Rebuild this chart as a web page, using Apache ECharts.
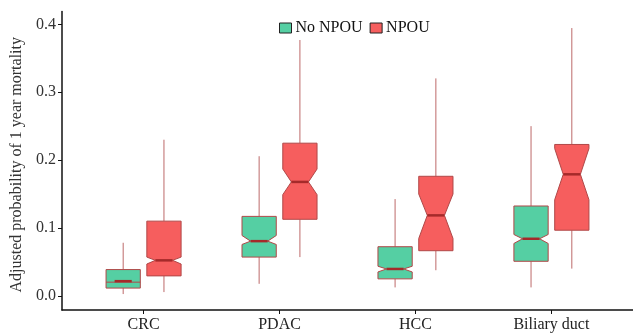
<!DOCTYPE html>
<html>
<head>
<meta charset="utf-8">
<script src="https://cdn.jsdelivr.net/npm/echarts@6/dist/echarts.min.js"></script>
<style>
  html, body { margin: 0; padding: 0; background: #fff; }
  #chart { width: 633px; height: 333px; }
</style>
</head>
<body>
<div id="chart"></div>
<script>
// categories on the x axis
var categories = ['CRC', 'PDAC', 'HCC', 'Biliary duct'];
// each box: [whisker low, Q1, notch low, median, notch high, Q3, whisker high]
var noNpou = [
    [0.0025, 0.0113, null, 0.0215, null, 0.0386, 0.0781],
    [0.0176, 0.0570, 0.0756, 0.0805, 0.0888, 0.1170, 0.2057],
    [0.0123, 0.0249, 0.0351, 0.0395, 0.0435, 0.0723, 0.1425],
    [0.0123, 0.0508, 0.0771, 0.0840, 0.0903, 0.1323, 0.2500]
];
var npou = [
    [0.0054, 0.0293, 0.0468, 0.0522, 0.0570, 0.1100, 0.2300],
    [0.0570, 0.1127, 0.1490, 0.1678, 0.1868, 0.2249, 0.3770],
    [0.0376, 0.0664, 0.0844, 0.1185, 0.1500, 0.1761, 0.3204],
    [0.0400, 0.0966, 0.1415, 0.1790, 0.2170, 0.2230, 0.3946]
];
var yTicks = [0, 0.1, 0.2, 0.3, 0.4];

var myChart = echarts.init(document.getElementById('chart'));
var serif = 'Liberation Serif';
var edge = '#b04848';

// notched box drawn with the axis scales
function makeRender(offset, fill) {
    return function (params, api) {
        var x = api.value(0) + offset;
        var v = [];
        for (var k = 1; k <= 7; k++) v.push(api.value(k));
        var half = api.size([0.126, 0])[0];
        var cx = api.coord([x, 0])[0];
        var y = function (val) { return api.coord([x, val])[1]; };
        var xl = cx - half, xr = cx + half, ind = half / 2;
        var children = [];
        // whiskers
        children.push({ type: 'line', shape: { x1: cx, y1: y(v[5]), x2: cx, y2: y(v[6]) },
            style: { stroke: '#bd6a6a', lineWidth: 1 } });
        children.push({ type: 'line', shape: { x1: cx, y1: y(v[0]), x2: cx, y2: y(v[1]) },
            style: { stroke: '#bd6a6a', lineWidth: 1 } });
        var pts;
        if (isNaN(v[2]) || isNaN(v[4])) {
            pts = [[xl, y(v[5])], [xl, y(v[1])], [xr, y(v[1])], [xr, y(v[5])]];
        } else {
            pts = [[xl, y(v[5])], [xl, y(v[4])], [xl + ind, y(v[3])], [xl, y(v[2])], [xl, y(v[1])],
                   [xr, y(v[1])], [xr, y(v[2])], [xr - ind, y(v[3])], [xr, y(v[4])], [xr, y(v[5])]];
        }
        children.push({ type: 'polygon', shape: { points: pts },
            style: { fill: fill, stroke: edge, lineWidth: 1 } });
        if (isNaN(v[2])) {
            children.push({ type: 'line', shape: { x1: xl, y1: y(v[3]) + 1, x2: xr, y2: y(v[3]) + 1 },
                style: { stroke: edge, lineWidth: 1 } });
        }
        children.push({ type: 'line', shape: { x1: xl + ind, y1: y(v[3]), x2: xr - ind, y2: y(v[3]) },
            style: { stroke: '#a52a2a', lineWidth: 2.5 } });
        return { type: 'group', children: children };
    };
}

function toData(arr) {
    return arr.map(function (b, i) { return [i + 1].concat(b); });
}

var option = {
    backgroundColor: '#fff',
    animation: false,
    legend: {
        top: 15,
        left: 274,
        itemWidth: 12,
        itemHeight: 10,
        itemGap: 7,
        textStyle: { fontFamily: serif, fontSize: 16, color: '#111', padding: [0, 0, 0, -1] },
        data: [
            { name: 'No NPOU', icon: 'rect', itemStyle: { color: '#55cfa3', borderColor: '#222', borderWidth: 1 } },
            { name: 'NPOU', icon: 'rect', itemStyle: { color: '#f65e5e', borderColor: '#222', borderWidth: 1 } }
        ]
    },
    grid: { left: 62, right: 0, top: 11.5, bottom: 21 },
    xAxis: {
        type: 'value',
        min: 0.4,
        max: 4.6,
        splitLine: { show: false },
        axisLine: { onZero: false, lineStyle: { color: '#111', width: 1.5 } },
        axisTick: { customValues: [1, 2, 3, 4], length: 4, lineStyle: { color: '#111' } },
        axisLabel: {
            customValues: [1, 2, 3, 4],
            formatter: function (v) { return categories[Math.round(v) - 1]; },
            fontFamily: serif, fontSize: 16, color: '#222', margin: 7
        }
    },
    yAxis: {
        type: 'value',
        min: -0.021,
        max: 0.419,
        name: 'Adjusted probability of 1 year mortality',
        nameLocation: 'middle',
        nameGap: 31,
        nameTextStyle: { fontFamily: serif, fontSize: 16, color: '#333', padding: [0, 8, 0, 0] },
        splitLine: { show: false },
        axisLine: { show: true, onZero: false, lineStyle: { color: '#111', width: 1.5 } },
        axisTick: { show: true, customValues: yTicks, length: 4, lineStyle: { color: '#111' } },
        axisLabel: {
            customValues: yTicks,
            formatter: function (v) { return v.toFixed(1); },
            fontFamily: serif, fontSize: 16, color: '#333', margin: 6
        }
    },
    series: [
        {
            name: 'No NPOU',
            type: 'custom',
            itemStyle: { color: '#55cfa3' },
            renderItem: makeRender(-0.15, '#55cfa3'),
            encode: { x: 0, y: [1, 2, 3, 4, 5, 6, 7] },
            data: toData(noNpou)
        },
        {
            name: 'NPOU',
            type: 'custom',
            itemStyle: { color: '#f65e5e' },
            renderItem: makeRender(0.15, '#f65e5e'),
            encode: { x: 0, y: [1, 2, 3, 4, 5, 6, 7] },
            data: toData(npou)
        }
    ]
};
myChart.setOption(option);
</script>
</body>
</html>
